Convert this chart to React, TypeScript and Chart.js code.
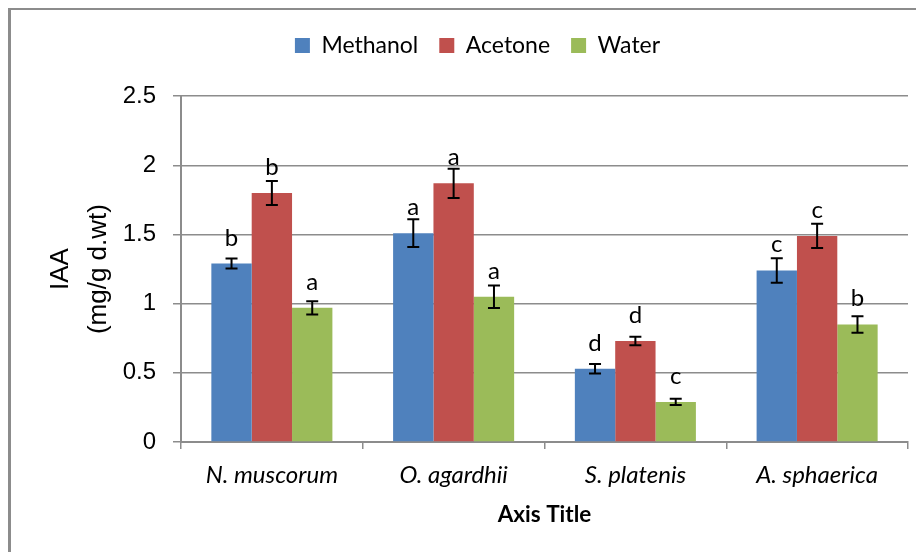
import React, { useEffect, useRef } from 'react';
import { Chart, registerables } from 'chart.js';

Chart.register(...registerables);

const categories = ['N. muscorum', 'O. agardhii', 'S. platenis', 'A. sphaerica'];
const seriesNames = ['Methanol', 'Acetone', 'Water'];
const methanol = [1.29, 1.51, 0.53, 1.24];
const acetone = [1.8, 1.87, 0.73, 1.49];
const water = [0.97, 1.05, 0.29, 0.85];
const methanolErr = [0.036, 0.1, 0.034, 0.089];
const acetoneErr = [0.087, 0.106, 0.031, 0.087];
const waterErr = [0.048, 0.082, 0.022, 0.06];
const methanolSig = ['b', 'a', 'd', 'c'];
const acetoneSig = ['b', 'a', 'd', 'c'];
const waterSig = ['a', 'a', 'c', 'b'];
const yTickValues = [0, 0.5, 1, 1.5, 2, 2.5];
const yTitleLines = ['IAA', '(mg/g d.wt)'];
const xTitle = 'Axis Title';
const colors = ['#4F81BD', '#C0504D', '#9BBB59'];

const errors = [methanolErr, acetoneErr, waterErr];
const sigs = [methanolSig, acetoneSig, waterSig];

const errorBarPlugin = {
  id: 'errorBars',
  afterDatasetsDraw(chart: any) {
    const ctx = chart.ctx;
    const y = chart.scales.y;
    chart.data.datasets.forEach((ds: any, di: number) => {
      const meta = chart.getDatasetMeta(di);
      meta.data.forEach((bar: any, i: number) => {
        const v = ds.data[i];
        const e = errors[di][i];
        const x = bar.x;
        const yTop = y.getPixelForValue(v + e);
        const yBot = y.getPixelForValue(v - e);
        ctx.save();
        ctx.strokeStyle = '#000';
        ctx.lineWidth = 2;
        ctx.beginPath();
        ctx.moveTo(x, yTop);
        ctx.lineTo(x, yBot);
        ctx.moveTo(x - 6, yTop);
        ctx.lineTo(x + 6, yTop);
        ctx.moveTo(x - 6, yBot);
        ctx.lineTo(x + 6, yBot);
        ctx.stroke();
        ctx.font = '24px Lato';
        ctx.textAlign = 'center';
        ctx.textBaseline = 'alphabetic';
        ctx.fillStyle = '#000';
        ctx.fillText(sigs[di][i], x, y.getPixelForValue(v) - 18);
        ctx.restore();
      });
    });
  },
};

const frameAndTitlePlugin = {
  id: 'frameAndTitle',
  afterDraw(chart: any) {
    const ctx = chart.ctx;
    const area = chart.chartArea;
    ctx.save();
    ctx.fillStyle = '#8c8c8c';
    ctx.fillRect(0, 0, chart.width, 2);
    ctx.fillRect(0, 0, 3, chart.height);
    const cy = (area.top + area.bottom) / 2;
    const xs = [53, 90.5];
    ctx.fillStyle = '#000';
    ctx.font = '26px "Liberation Sans"';
    ctx.textAlign = 'center';
    ctx.textBaseline = 'middle';
    yTitleLines.forEach((line, i) => {
      ctx.save();
      ctx.translate(xs[i], cy);
      ctx.rotate(-Math.PI / 2);
      ctx.fillText(line, 0, 0);
      ctx.restore();
    });
    ctx.restore();
  },
};

export default function App() {
  const ref = useRef<HTMLCanvasElement>(null);
  useEffect(() => {
    document.body.style.overflow = 'hidden';
    const canvas = ref.current!;
    const chart = new Chart(canvas, {
      type: 'bar',
      data: {
        labels: categories,
        datasets: [methanol, acetone, water].map((d, i) => ({
          label: seriesNames[i],
          data: d,
          backgroundColor: colors[i],
          borderWidth: 0,
          categoryPercentage: 0.666,
          barPercentage: 1,
        })),
      },
      options: {
        responsive: false,
        animation: false,
        layout: { padding: { top: 5, right: 16, left: 39, bottom: 0 } },
        plugins: {
          legend: {
            position: 'top',
            weight: 3000,
            labels: {
              boxWidth: 15,
              boxHeight: 15,
              padding: 21,
              color: '#000',
              font: { family: 'Lato', size: 23 },
            },
          },
          subtitle: {
            display: true,
            text: '',
            font: { size: 1 },
            padding: { top: 28, bottom: 0 },
          },
          tooltip: { enabled: false },
        },
        scales: {
          x: {
            grid: {
              display: true,
              drawOnChartArea: false,
              drawTicks: true,
              tickLength: 7,
              color: '#8c8c8c',
              lineWidth: 1.5,
            },
            border: { color: '#8c8c8c', width: 2 },
            ticks: {
              color: '#000',
              padding: 12,
              font: { family: 'Lato', size: 24, style: 'italic' },
            },
            title: {
              display: true,
              text: xTitle,
              color: '#000',
              font: { family: 'Lato', size: 22.5, weight: 'bold' },
              padding: { top: 0, bottom: 24 },
            },
            afterFit: (s: any) => {
              s.height = 110;
            },
          },
          y: {
            min: 0,
            max: 2.5,
            afterBuildTicks: (s: any) => {
              s.ticks = yTickValues.map((v) => ({ value: v }));
            },
            ticks: {
              color: '#000',
              padding: 17,
              font: { family: 'Liberation Sans', size: 24 },
              callback: (v: any) => String(v),
            },
            grid: { color: '#8c8c8c', lineWidth: 1.5, tickLength: 8 },
            border: { color: '#8c8c8c', width: 2 },
            title: { display: false },
            afterFit: (s: any) => {
              s.width = 134;
            },
          },
        },
      },
      plugins: [errorBarPlugin, frameAndTitlePlugin],
    } as any);
    return () => chart.destroy();
  }, []);
  return (
    <div>
      <canvas ref={ref} width={916} height={544} style={{ display: 'block' }} />
    </div>
  );
}
